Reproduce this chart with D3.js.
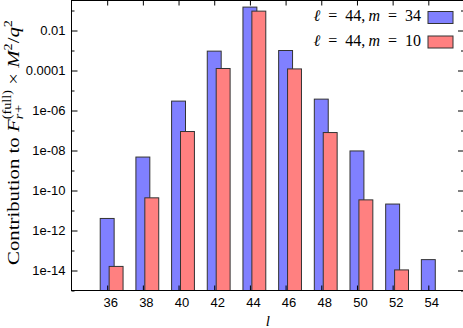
<!DOCTYPE html>
<html>
<head>
<meta charset="utf-8">
<script src="https://cdn.jsdelivr.net/npm/d3@7"></script>
<style>
  body { margin: 0; background: #fff; }
  svg { display: block; }
  .tick text { font-family: "Liberation Sans", Arial, sans-serif; font-size: 13px; fill: #000; }
  .serif { font-family: "Liberation Serif", "Times New Roman", serif; white-space: pre; }
</style>
</head>
<body>
<div id="chart"></div>
<script>
// l values on the x axis
const ells = [36, 38, 40, 42, 44, 46, 48, 50, 52, 54];
// contributions
const m34 = [4.0e-12, 4.7e-9, 2.95e-6, 9.3e-4, 0.148, 1.0e-3, 3.7e-6, 9.5e-9, 2.1e-11, 3.5e-14];
const m10 = [1.6e-14, 4.3e-11, 8.9e-8, 1.26e-4, 0.093, 1.2e-4, 7.9e-8, 3.4e-11, 1.07e-14, null];
const seriesNames = ["34", "10"];
const yMajor = [1e-14, 1e-12, 1e-10, 1e-8, 1e-6, 1e-4, 1e-2];
const yMajorLabels = ["1e-14", "1e-12", "1e-10", "1e-08", "1e-06", "0.0001", "0.01"];
const yMinor = [1e-15, 1e-13, 1e-11, 1e-9, 1e-7, 1e-5, 1e-3, 1e-1];

const W = 463, H = 328;
const margin = {left: 71.5, right: 464, top: 0.5, bottom: 290.5};
const blue = "#8080ff", red = "#ff8080";

const svg = d3.select("#chart").append("svg").attr("width", W).attr("height", H);

const x = d3.scaleLinear().domain([34, 56]).range([margin.left, margin.right]);
const y = d3.scaleLog().domain([1e-15, Math.pow(10, -0.5)]).range([margin.bottom, margin.top]);
const barW = x(0.78) - x(0);

// bars: blue first, red drawn over it
const bars = svg.append("g");
bars.selectAll(".b34").data(ells.map((l, i) => ({l, v: m34[i]})).filter(d => d.v))
  .enter().append("rect").attr("class", "b34")
  .attr("x", d => x(d.l) - barW / 2).attr("width", barW)
  .attr("y", d => y(d.v)).attr("height", d => margin.bottom - y(d.v))
  .attr("fill", blue).attr("stroke", "#333").attr("stroke-width", 1);
bars.selectAll(".b10").data(ells.map((l, i) => ({l, v: m10[i]})).filter(d => d.v))
  .enter().append("rect").attr("class", "b10")
  .attr("x", d => x(d.l + 0.5) - barW / 2).attr("width", barW)
  .attr("y", d => y(d.v)).attr("height", d => margin.bottom - y(d.v))
  .attr("fill", red).attr("stroke", "#333").attr("stroke-width", 1);

// frame
svg.append("rect").attr("x", margin.left).attr("y", margin.top)
  .attr("width", margin.right - margin.left).attr("height", margin.bottom - margin.top)
  .attr("fill", "none").attr("stroke", "#000").attr("stroke-width", 1);

// axes
const yAxis = d3.axisLeft(y).tickValues(yMajor).tickFormat((d, i) => yMajorLabels[i]).tickSize(-6).tickPadding(6);
svg.append("g").attr("transform", `translate(${margin.left},0)`).call(yAxis)
  .call(g => g.select(".domain").remove());
svg.append("g").attr("transform", `translate(${margin.left},0)`)
  .call(d3.axisLeft(y).tickValues(yMinor).tickFormat("").tickSize(-3))
  .call(g => g.select(".domain").remove());
svg.append("g").attr("transform", `translate(${margin.right},0)`)
  .call(d3.axisRight(y).tickValues(yMajor).tickFormat("").tickSize(-6))
  .call(g => g.select(".domain").remove());
svg.append("g").attr("transform", `translate(${margin.right},0)`)
  .call(d3.axisRight(y).tickValues(yMinor).tickFormat("").tickSize(-3))
  .call(g => g.select(".domain").remove());

const xAxis = d3.axisBottom(x).tickValues(ells).tickFormat(d3.format("d")).tickSize(-5).tickPadding(7);
svg.append("g").attr("transform", `translate(0,${margin.bottom})`).call(xAxis)
  .call(g => g.select(".domain").remove())
  .call(g => g.selectAll(".tick text").attr("dx", 3));
svg.append("g").attr("transform", `translate(0,${margin.top})`)
  .call(d3.axisTop(x).tickValues(ells).tickFormat("").tickSize(-5))
  .call(g => g.select(".domain").remove());

// legend
const legend = svg.append("g");
[[seriesNames[0], blue, 21], [seriesNames[1], red, 45.5]].forEach(([m, col, by]) => {
  const t = legend.append("text").attr("class", "serif").attr("x", 421).attr("y", by)
    .attr("text-anchor", "end").attr("font-size", 16);
  t.append("tspan").attr("font-style", "italic").text("ℓ");
  t.append("tspan").text("\u2002=\u200244,\u2009");
  t.append("tspan").attr("font-style", "italic").text("m");
  t.append("tspan").text("\u2002=\u2002" + m);
  legend.append("rect").attr("x", 428).attr("y", by - 9.5).attr("width", 25).attr("height", 12)
    .attr("fill", col).attr("stroke", "#333").attr("stroke-width", 1);
});

// x label
svg.append("text").attr("class", "serif").attr("x", (margin.left + margin.right) / 2).attr("y", 326)
  .attr("text-anchor", "middle").attr("font-size", 15).attr("font-style", "italic").text("l");

// y label, built piece by piece
const yl = svg.append("g").attr("class", "serif");
const pieces = [
  {t: "Contribution\u00a0to\u00a0", s: 17.5},
  {t: "F", s: 17.5, it: true},
  {t: "r+", s: 12, it: true, dy: 4, stack: true},
  {t: "(full)", s: 12, dy: -8, overlap: true},
  {t: "\u00a0×\u00a0", s: 17.5},
  {t: "M", s: 17.5, it: true},
  {t: "2", s: 12, dy: -7},
  {t: "/", s: 17.5},
  {t: "q", s: 17.5, it: true},
  {t: "2", s: 12, dy: -7}
];
let cx = 0, stackStart = 0, stackW = 0;
pieces.forEach(p => {
  let px = cx;
  if (p.overlap) px = stackStart;
  const el = yl.append("text").attr("x", px).attr("y", p.dy || 0).attr("font-size", p.s)
    .attr("font-style", p.it ? "italic" : "normal").text(p.t);
  const w = el.node().getComputedTextLength();
  if (p.stack) { stackStart = cx; stackW = w; cx += w; }
  else if (p.overlap) { cx = stackStart + Math.max(w, stackW); }
  else cx += w;
});
// stretch along the text direction to match the wider TeX font
const sx = 245 / cx;
yl.attr("transform", `translate(19,${142.5 + cx * sx / 2}) rotate(-90) scale(${sx},1)`);
</script>
</body>
</html>
